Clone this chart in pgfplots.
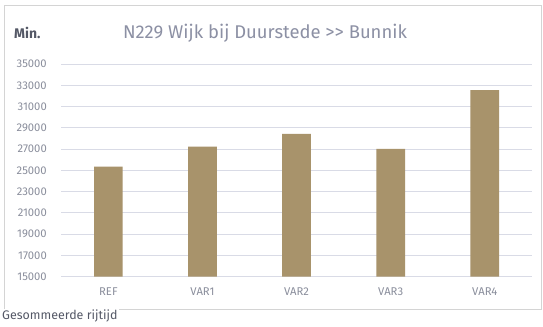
\documentclass[border=0pt]{standalone}
\usepackage{pgfplots}
\pgfplotsset{compat=1.18}
\usepackage{fontspec}
\setmainfont{Fira Sans}
\definecolor{barc}{HTML}{A8936B}
\definecolor{gridc}{HTML}{D9DBE6}
\definecolor{tickc}{HTML}{8A8E9C}
\definecolor{titlec}{HTML}{8C90A4}
\definecolor{darkc}{HTML}{545866}
\definecolor{framec}{HTML}{D4D4D4}
\begin{document}
\begin{tikzpicture}[x=1bp,y=1bp]
\path[use as bounding box,fill=white] (0,0) rectangle (543,326);
\draw[framec,line width=1bp] (4,17) rectangle (541,320);
\begin{axis}[
  at={(61.3bp,49.3bp)}, anchor=south west,
  scale only axis, width=470.5bp, height=212.7bp,
  xmin=-0.5, xmax=4.5, ymin=15000, ymax=35000,
  ytick={15000,17000,...,35000},
  scaled y ticks=false,
  xtick={0,1,2,3,4},
  xticklabels={REF,VAR1,VAR2,VAR3,VAR4},
  axis line style={draw=none},
  major tick length=0pt,
  ymajorgrids, grid style={gridc,line width=0.8bp},
  /pgf/number format/assume math mode=true,
  /pgf/number format/set thousands separator={},
  yticklabel style={font=\fontsize{11.3}{13}\selectfont\color{tickc},xshift=-11bp},
  xticklabel style={font=\fontsize{11.3}{13}\selectfont\color{tickc},yshift=-8bp},
  clip=false,
]
\addplot[ybar, bar width=28.7bp, fill=barc, draw=none] coordinates {
(0,25350) (1,27220) (2,28420) (3,27010) (4,32550)};
\end{axis}
\node[anchor=west,font=\fontsize{14}{16}\selectfont\bfseries,text=darkc,inner sep=0pt] at (14,293) {Min.};
\node[font=\fontsize{18.5}{20}\selectfont,text=titlec] at (265,293) {N229 Wijk bij Duurstede >{}> Bunnik};
\node[anchor=west,font=\fontsize{12.5}{14}\selectfont,text=darkc,fill=white,inner xsep=1bp,inner ysep=1bp] at (1,10) {Gesommeerde rijtijd};
\end{tikzpicture}
\end{document}
